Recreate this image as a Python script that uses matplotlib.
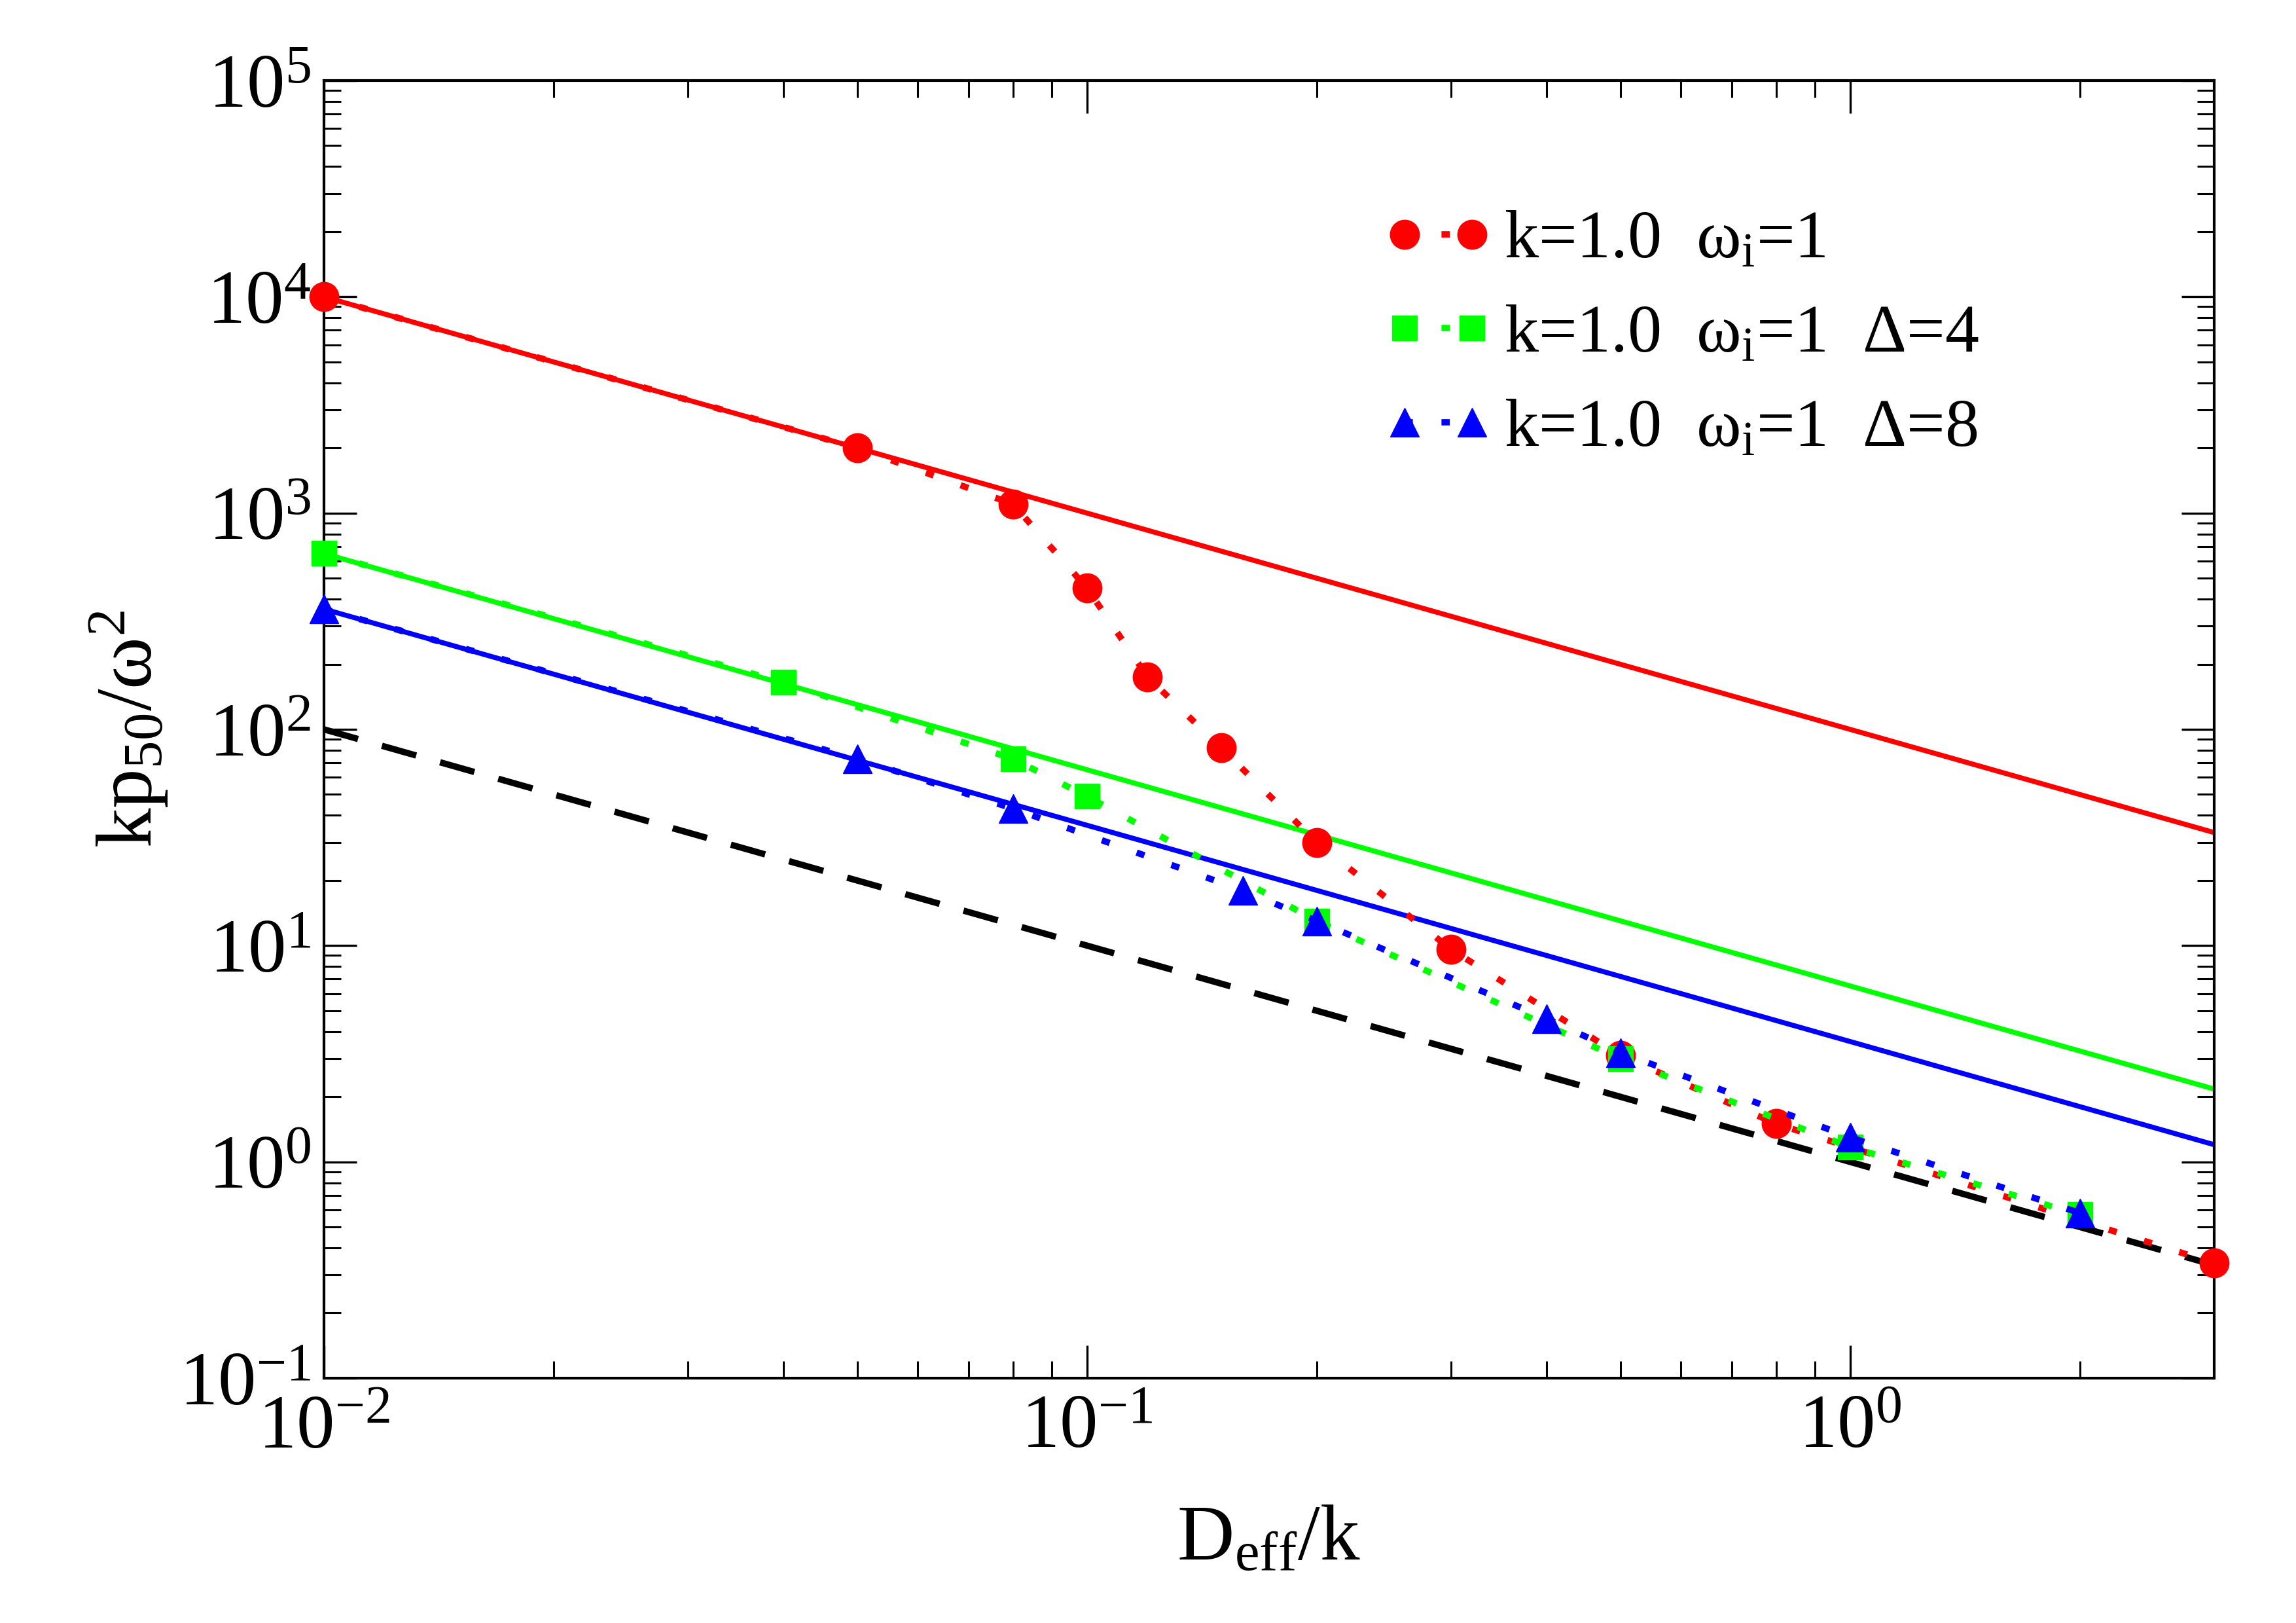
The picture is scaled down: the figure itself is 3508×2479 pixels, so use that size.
import numpy as np
import matplotlib
matplotlib.use("Agg")
import matplotlib.pyplot as plt

plt.rcParams['font.family'] = ['Liberation Serif', 'DejaVu Serif']
plt.rcParams['mathtext.fontset'] = 'custom'
plt.rcParams['mathtext.rm'] = 'Liberation Serif'
plt.rcParams['mathtext.it'] = 'Liberation Serif:italic'
plt.rcParams['mathtext.bf'] = 'Liberation Serif:bold'
plt.rcParams['axes.unicode_minus'] = False

# simulation points
red_x = [0.01, 0.05, 0.08, 0.1, 0.12, 0.15, 0.2, 0.3, 0.5, 0.8, 3.0]
red_y = [10000, 2000, 1100, 450, 175, 82, 30, 9.6, 3.1, 1.5, 0.34]

green_x = [0.01, 0.04, 0.08, 0.1, 0.2, 0.5, 1.0, 2.0]
green_y = [650, 165, 73, 49, 13, 3.0, 1.17, 0.57]

blue_x = [0.01, 0.05, 0.08, 0.16, 0.2, 0.4, 0.5, 1.0, 2.0]
blue_y = [360, 73, 43, 18, 13, 4.6, 3.2, 1.3, 0.58]

# power-law reference lines (end points)
fit_x = [0.01, 3.0]
fit_red = [10000, 33.3]
fit_green = [650, 2.17]
fit_blue = [360, 1.2]
fit_black = [100, 0.333]

labels = ['k=1.0  ω$_\\mathrm{i}$=1',
          'k=1.0  ω$_\\mathrm{i}$=1  Δ=4',
          'k=1.0  ω$_\\mathrm{i}$=1  Δ=8']

RED = '#ff0000'
GREEN = '#00ff00'
BLUE = '#0000ff'
TICK_FS = 84
LABEL_FS = 87
LEG_FS = 75

fig = plt.figure(figsize=(35.08, 24.79), dpi=100)
ax = fig.add_axes([0.141, 0.1509, 0.8234, 0.7995])

dot = (0, (1.3, 4.5))
ax.plot(fit_x, fit_red, color=RED, lw=5.5, zorder=2)
ax.plot(fit_x, fit_green, color=GREEN, lw=5.5, zorder=2)
ax.plot(fit_x, fit_blue, color=BLUE, lw=5.5, zorder=2)
ax.plot(fit_x, fit_black, color='black', lw=7, ls=(0, (5.6, 3.9)), zorder=2)

ax.plot(red_x, red_y, color=RED, lw=7, ls=dot, marker='o', ms=32,
        dash_capstyle='butt', label=labels[0], zorder=3, clip_on=False)
ax.plot(green_x, green_y, color=GREEN, lw=7, ls=dot, marker='s', ms=27,
        dash_capstyle='butt', label=labels[1], zorder=3, clip_on=False)
ax.plot(blue_x, blue_y, color=BLUE, lw=7, ls=dot, marker='^', ms=31,
        dash_capstyle='butt', label=labels[2], zorder=3, clip_on=False)

ax.set_xscale('log')
ax.set_yscale('log')
ax.set_xlim(0.01, 3.0)
ax.set_ylim(0.1, 1e5)
ax.yaxis.set_major_locator(matplotlib.ticker.LogLocator(base=10, numticks=10))
ax.yaxis.set_minor_locator(matplotlib.ticker.LogLocator(base=10, subs=np.arange(2, 10), numticks=10))

for s in ax.spines.values():
    s.set_linewidth(3)
ax.tick_params(which='both', direction='in', top=True, right=True, labelsize=TICK_FS)
ax.tick_params(which='major', length=36, width=2.4)
ax.tick_params(which='minor', length=19, width=2.2)
ax.tick_params(axis='y', which='major', pad=14)
ax.tick_params(axis='x', which='major', pad=18)

ax.set_xlabel('D$_\\mathrm{eff}$/k', fontsize=LABEL_FS)
ax.set_ylabel('kp$_\\mathrm{50}$/ω$^\\mathrm{2}$', fontsize=LABEL_FS)
ax.xaxis.set_label_coords(0.5, -0.098)
ax.yaxis.set_label_coords(-0.081, 0.50)

ax.legend(loc='upper left', bbox_to_anchor=(0.561, 0.90), frameon=False,
          fontsize=LEG_FS, numpoints=2, handlelength=1.59, handletextpad=0.17,
          borderpad=0, borderaxespad=0, labelspacing=0.47)

fig.savefig('out.png', dpi=100)
